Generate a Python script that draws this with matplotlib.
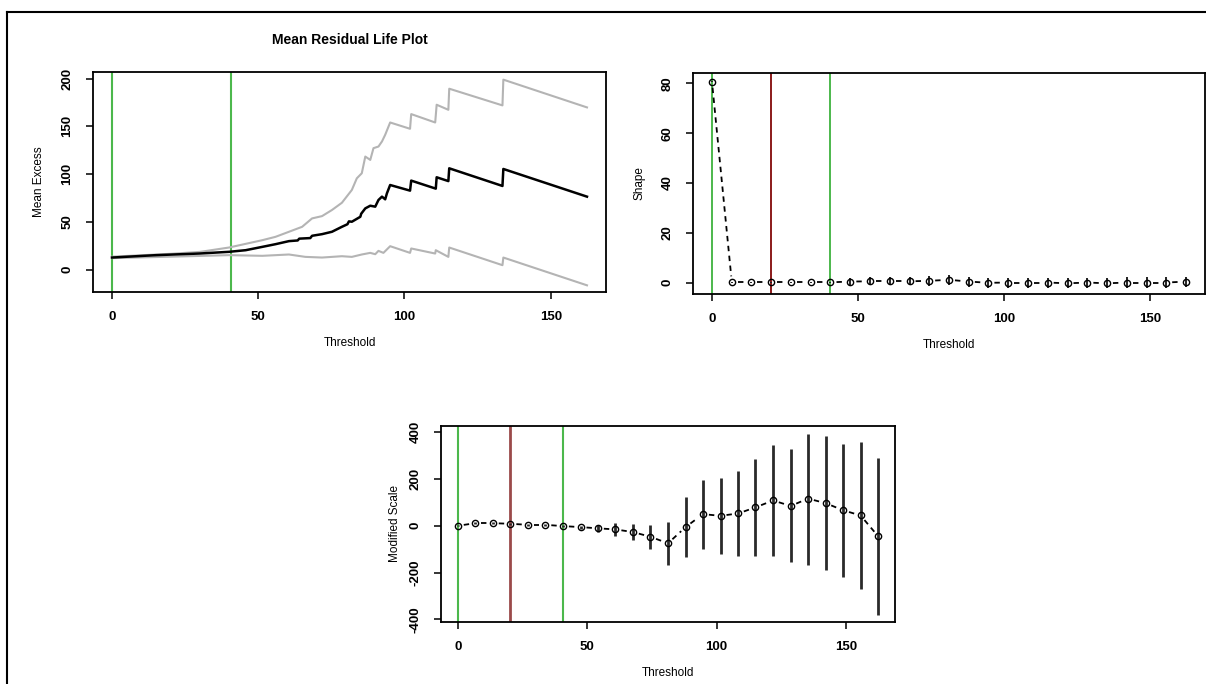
import numpy as np
import matplotlib.pyplot as plt
from matplotlib.lines import Line2D

plt.rcParams['font.family'] = ['Liberation Sans', 'DejaVu Sans']
plt.rcParams['axes.unicode_minus'] = False

# mean residual life plot (vertices)
mean_u = [0, 15, 29.8, 40, 45.7, 51.4, 55.9, 60.5, 63.5, 64.0, 67.8, 68.4, 71.8, 75.2, 78.6,
          80.5, 81.0, 82.0, 84.9, 85.2, 86.6, 88.3, 90.0, 91.1, 92.3, 93.4, 94.0, 95.1,
          101.9, 102.3, 110.7, 111.0, 115.0, 115.3, 133.5, 133.8, 162.4]
mean_me = [12.6, 15.1, 16.8, 18.6, 20.3, 23.8, 26.6, 29.8, 30.5, 32.4, 33.0, 35.4, 37.1, 39.6, 44.8,
           47.5, 50.5, 50.1, 55.3, 58.5, 64.1, 66.9, 65.9, 72.9, 76.4, 73.6, 79.9, 88.6,
           82.7, 93.2, 84.8, 96.7, 92.7, 106.1, 87.6, 105.4, 76.4]
upper_u = [0, 20, 30, 40, 51.4, 55.9, 60.5, 65.0, 68.4, 71.8, 75.2, 78.6, 82.0, 83.7, 85.4,
           86.6, 88.3, 89.4, 91.1, 92.3, 93.4, 95.1, 101.9, 102.3, 110.5, 111.0, 115.0, 115.3,
           133.5, 133.8, 162.4]
upper_me = [13.5, 16.5, 18.5, 23.1, 30.8, 34.3, 39.6, 44.8, 53.6, 56.0, 62.4, 70.0, 83.4, 95.6, 100.9,
            118.4, 114.9, 127.2, 128.9, 134.2, 141.2, 154.1, 147.5, 162.9, 154.1, 172.7, 167.4, 189.5,
            172.0, 199.0, 169.9]
lower_u = [0, 20, 40, 51.4, 60.5, 66.1, 71.8, 78.6, 82.0, 85.4, 88.3, 90.0, 91.1, 92.8, 95.1,
           101.9, 102.3, 110.5, 110.7, 115.0, 115.3, 133.5, 133.8, 162.4]
lower_me = [12.0, 13.5, 15.1, 14.4, 15.8, 13.3, 12.6, 14.0, 13.3, 15.8, 17.5, 16.1, 19.6, 17.5, 24.5,
            17.5, 22.1, 16.8, 20.3, 13.3, 23.1, 4.6, 12.6, -16.5]

# threshold range fits
thresholds = [0, 6.8, 13.5, 20.3, 27.1, 33.8, 40.6, 47.4, 54.1, 60.9, 67.7, 74.4, 81.2,
              88.0, 94.7, 101.5, 108.3, 115.0, 121.8, 128.6, 135.3, 142.1, 148.9, 155.6, 162.4]
shape = [80.7, 0.1, 0.1, 0.1, 0.1, 0.1, 0.1, 0.4, 0.5, 0.5, 0.5, 0.7, 1.1,
         0.4, -0.1, 0.0, 0.0, 0.0, -0.3, 0.0, -0.3, 0.0, 0.0, 0.0, 0.4]
shape_lo = [80.5, -0.1, -0.1, -0.1, -0.2, -0.2, -0.2, -1.2, -1.1, -1.1, -1.1, -1.3, -0.9,
            -1.6, -2.1, -2.0, -2.0, -2.0, -2.3, -2.0, -2.3, -2.1, -2.1, -2.1, -1.6]
shape_hi = [80.9, 0.3, 0.3, 0.3, 0.4, 0.4, 0.4, 2.0, 2.1, 2.1, 2.1, 2.7, 3.1,
            2.4, 1.9, 2.0, 2.0, 2.0, 1.7, 2.0, 1.7, 2.1, 2.1, 2.1, 2.4]
mod_scale = [0, 11, 11, 8.5, 4, 4, -1.4, -5.7, -11, -15.6, -27, -47, -75,
             -5.7, 49.6, 42.5, 52.5, 78.5, 108, 84.5, 116, 96.5, 66, 44, -45]
mod_scale_lo = [-3, 8, 8, 5, 0, 0, -6, -12, -27, -42, -62, -98, -166,
                -133, -98, -121, -128, -130, -130, -155, -166, -191, -217, -270, -379]
mod_scale_hi = [3, 14, 14, 12, 8, 8, 3, 1, 5, 11, 7, 4, 18,
                121, 196, 206, 234, 285, 345, 326, 391, 384, 349, 359, 288]

green_lines = [0, 40.6]
red_line = 20.3
x_ticks = [0, 50, 100, 150]

GREEN = '#4cb84c'
W, H = 1206, 684
fig = plt.figure(figsize=(W / 100, H / 100), dpi=100)


def add_axes(left, top, right, bottom):
    return fig.add_axes([left / W, 1 - bottom / H, (right - left) / W, (bottom - top) / H])


def style(ax, ylim, yticks, ylabel, ylab_off):
    ax.set_xlim(-6.5, 168.9)
    ax.set_ylim(ylim)
    ax.set_xticks(x_ticks)
    ax.set_yticks(yticks)
    ax.tick_params(length=5, width=1.1, pad=9, labelsize=9.5, direction='out')
    for lab in ax.get_xticklabels() + ax.get_yticklabels():
        lab.set_fontweight('bold')
    plt.setp(ax.get_yticklabels(), rotation=90, va='center')
    for s in ax.spines.values():
        s.set_linewidth(1.3)
    bb = ax.get_position()
    ax.set_xlabel('Threshold', fontsize=8.5)
    ax.xaxis.set_label_coords(0.5, -51 / (bb.height * H))
    ax.xaxis.label.set_va('center')
    ax.set_ylabel(ylabel, fontsize=8.5)
    ax.yaxis.set_label_coords(-ylab_off / (bb.width * W), 0.5)
    ax.yaxis.label.set_va('center')


def type_b(ax, x, y, gap=6.0):
    # R style type="b": segments stop short of the points
    pts = ax.transData.transform(np.column_stack([x, y]))
    inv = ax.transData.inverted()
    for p0, p1 in zip(pts[:-1], pts[1:]):
        d = p1 - p0
        L = np.hypot(*d)
        if L <= 2 * gap:
            continue
        u = d / L
        seg = inv.transform([p0 + u * gap, p1 - u * gap])
        ax.plot(seg[:, 0], seg[:, 1], color='k', lw=1.3, linestyle=(0, (3, 2.5)))
    ax.plot(x, y, 'o', ms=4.5, mfc='none', mec='k', mew=1.0, zorder=3)


# top left
ax1 = add_axes(93, 72, 606, 292)
style(ax1, (-23.5, 207), [0, 50, 100, 150, 200], 'Mean Excess', 54)
for g in green_lines:
    ax1.axvline(g, color=GREEN, lw=1.5)
ax1.plot(upper_u, upper_me, color='#b4b4b4', lw=1.5)
ax1.plot(lower_u, lower_me, color='#b4b4b4', lw=1.5)
ax1.plot(mean_u, mean_me, color='k', lw=1.8)
ax1.text(0.5, 1 + 32 / 220, 'Mean Residual Life Plot', transform=ax1.transAxes,
         ha='center', va='center', fontsize=10, fontweight='bold')

# top right
ax2 = add_axes(693, 73, 1205, 294)
style(ax2, (-4.6, 84.2), [0, 20, 40, 60, 80], 'Shape', 54)
for g in green_lines:
    ax2.axvline(g, color=GREEN, lw=1.4)
ax2.axvline(red_line, color='#8b1a1a', lw=1.4)
ax2.vlines(thresholds, shape_lo, shape_hi, color='#222222', lw=1.4)
type_b(ax2, thresholds, shape)

# bottom
ax3 = add_axes(441, 426, 895, 622)
style(ax3, (-411, 426), [-400, -200, 0, 200, 400], 'Modified Scale', 46)
for g in green_lines:
    ax3.axvline(g, color=GREEN, lw=1.5)
ax3.axvline(red_line, color='#9b4a4a', lw=2.0)
ax3.vlines(thresholds, mod_scale_lo, mod_scale_hi, color='#2a2a2a', lw=2.0)
type_b(ax3, thresholds, mod_scale)

# outer frame (left and top edges)
fig.add_artist(Line2D([7 / W, 7 / W], [0, 1 - 12 / H], transform=fig.transFigure, color='k', lw=1.5))
fig.add_artist(Line2D([7 / W, 1], [1 - 12 / H, 1 - 12 / H], transform=fig.transFigure, color='k', lw=1.5))

fig.savefig('out.png', dpi=100, facecolor='white')
